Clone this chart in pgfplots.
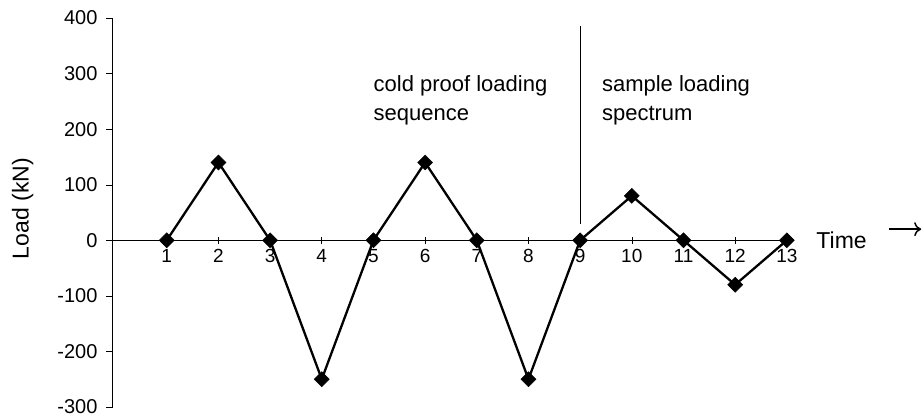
\documentclass[border=0pt]{standalone}
\usepackage{fontspec}
\setmainfont{Liberation Sans}
\usepackage{pgfplots}
\pgfplotsset{compat=1.18}
\usetikzlibrary{arrows.meta}
\begin{document}
\begin{tikzpicture}
\useasboundingbox (-113pt,-11pt) rectangle (811pt,407pt);
\begin{axis}[
    scale only axis, width=679pt, height=389pt,
    xmin=-0.04, xmax=13.1, ymin=-300, ymax=400,
    axis x line=middle, axis y line=left,
    axis line style={-, line width=1pt},
    xtick={1,...,13}, ytick={-300,-200,...,400},
    x tick style={line width=0.6pt}, major tick length=7pt,
    xtick align=center, ytick align=outside,
    tick style={black},
    xticklabel={\fontsize{19}{21}\selectfont\pgfmathprintnumber{\tick}},
    yticklabel={\fontsize{20}{22}\selectfont\pgfmathprintnumber{\tick}},
    xticklabel style={anchor=north, yshift=-2pt},
    yticklabel style={xshift=-5pt},
    /pgf/number format/assume math mode=true,
    ylabel={Load (kN)},
    ylabel style={font=\fontsize{23}{26}\selectfont, at={(axis description cs:-0.133,0.51)}, anchor=center, rotate=0},
    clip=false,
]
\addplot[black, line width=2.3pt, mark=square*, mark size=5.3pt, mark options={rotate=45, line width=0.5pt}]
coordinates {(1,0) (2,140) (3,0) (4,-250) (5,0) (6,140) (7,0) (8,-250) (9,0) (10,80) (11,0) (12,-80) (13,0)};
\addplot[black, line width=0.8pt] coordinates {(9,30) (9,386)};
\node[anchor=north west, align=left, font=\fontsize{22}{29}\selectfont, inner sep=0pt] at (axis cs:5,297) {cold proof loading\\sequence};
\node[anchor=north west, align=left, font=\fontsize{22}{29}\selectfont, inner sep=0pt] at (axis cs:9.42,297) {sample loading\\spectrum};
\node[anchor=west, font=\fontsize{23}{26}\selectfont, inner sep=0pt] at (axis cs:13.57,0) {Time};
\draw[line width=1.5pt, -{To[length=7pt, width=14pt]}] (axis cs:14.98,20) -- (axis cs:15.6,20);
\end{axis}
\end{tikzpicture}
\end{document}
